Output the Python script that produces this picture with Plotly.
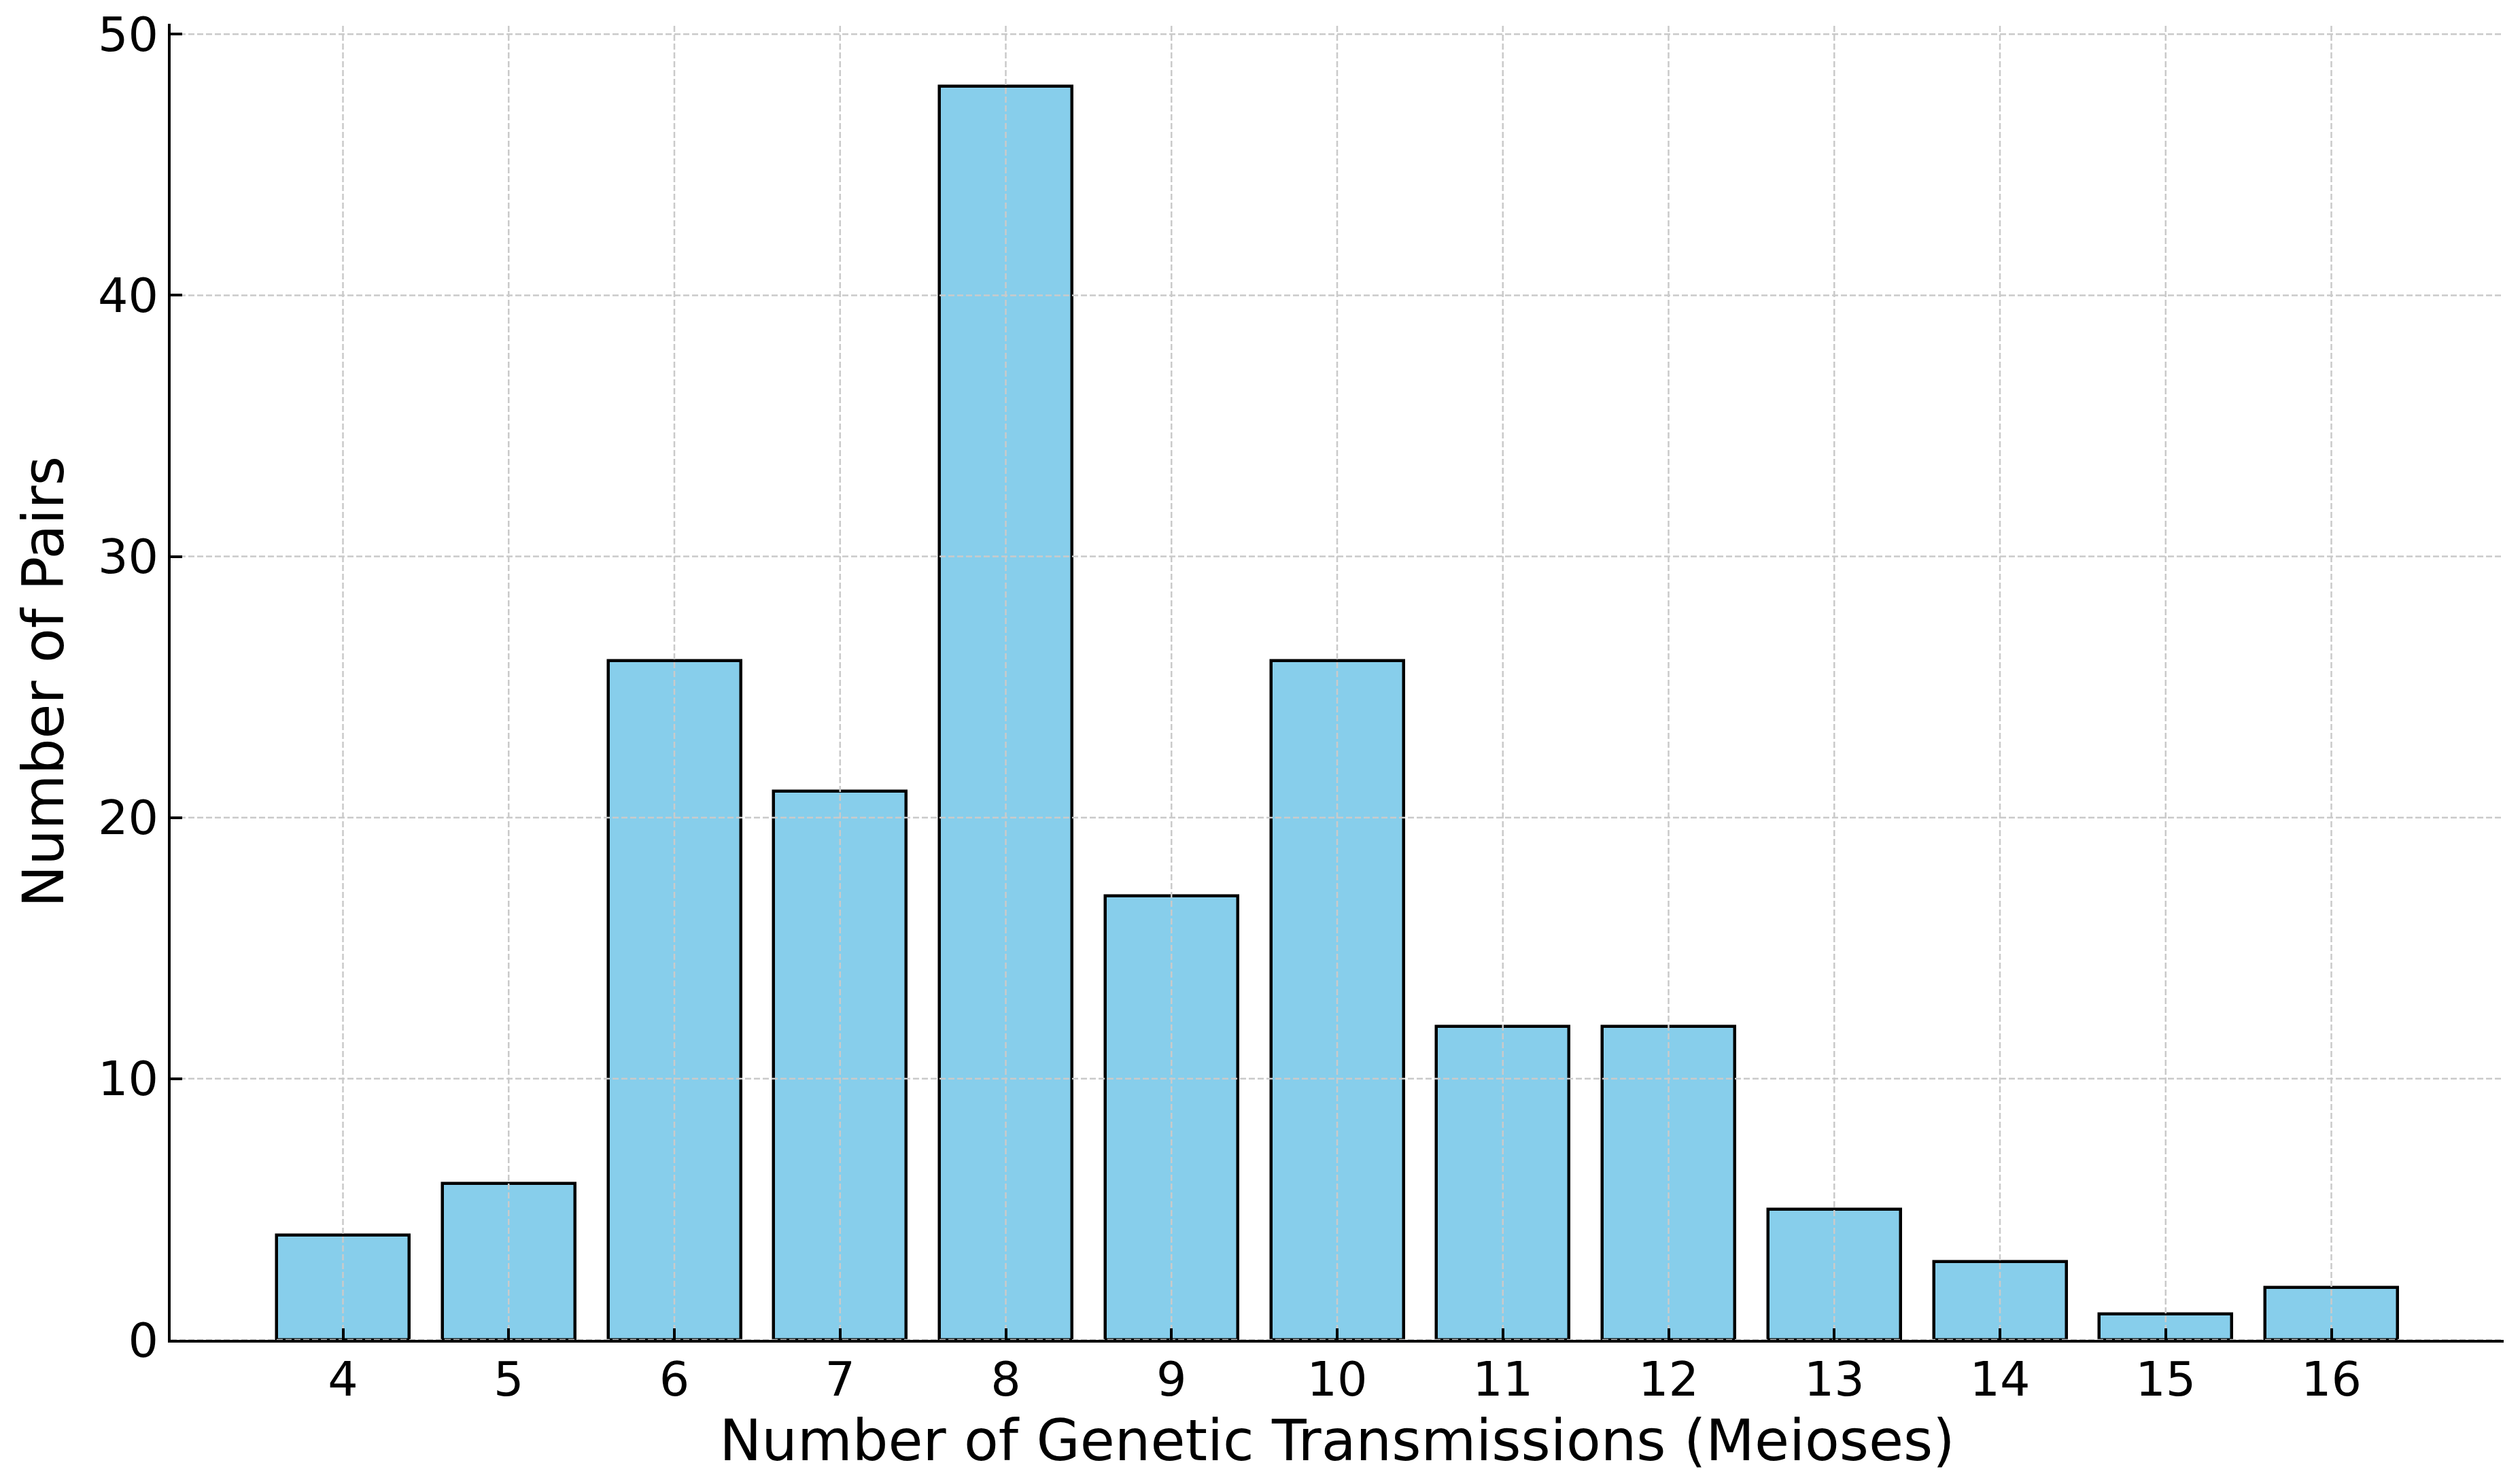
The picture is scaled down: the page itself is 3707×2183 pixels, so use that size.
import plotly.graph_objects as go

# Data
meioses = [4, 5, 6, 7, 8, 9, 10, 11, 12, 13, 14, 15, 16]
pairs = [4, 6, 26, 21, 48, 17, 26, 12, 12, 5, 3, 1, 2]
y_ticks = [0, 10, 20, 30, 40, 50]
x_title = "Number of Genetic Transmissions (Meioses)"
y_title = "Number of Pairs"

W, H = 3707, 2183
bar_width = 0.8
xmin = min(meioses) - bar_width / 2
xmax = max(meioses) + bar_width / 2
xpad = 0.05 * (xmax - xmin)
x_range = [xmin - xpad, xmax + xpad]
y_range = [0, max(pairs) * 1.05]

FONT = "DejaVu Sans"
GRID = "#cacaca"
DASH = "9px,4px"

fig = go.Figure()
fig.add_trace(go.Bar(
    x=meioses, y=pairs, width=bar_width,
    marker=dict(color="#87CEEB", line=dict(color="black", width=4.5)),
    hoverinfo="x+y", showlegend=False,
))

# gridlines drawn above the bars (as in the reference)
gx, gy = [], []
for t in meioses:
    gx += [t, t, None]
    gy += [y_range[0], y_range[1], None]
fig.add_trace(go.Scatter(x=gx, y=gy, mode="lines",
                         line=dict(color=GRID, width=2.5, dash=DASH),
                         hoverinfo="skip", showlegend=False))
hx, hy = [], []
for t in y_ticks:
    hx += [x_range[0], x_range[1], None]
    hy += [t, t, None]
fig.add_trace(go.Scatter(x=hx, y=hy, mode="lines",
                         line=dict(color=GRID, width=2.5, dash=DASH),
                         hoverinfo="skip", showlegend=False))

fig.update_layout(
    width=W, height=H,
    margin=dict(l=251, r=24, t=35, b=212, pad=0),
    paper_bgcolor="white", plot_bgcolor="white",
    font=dict(family=FONT, color="black", size=70),
    bargap=0,
)
fig.update_xaxes(
    range=x_range, tickmode="array", tickvals=meioses,
    ticktext=[str(v) for v in meioses],
    showgrid=False, zeroline=False,
    showline=True, linecolor="black", linewidth=4,
    ticks="inside", ticklen=17, tickwidth=4, tickcolor="black",
    tickfont=dict(size=70, family=FONT, color="black"),
    ticklabelstandoff=-6,
    title=dict(text=x_title, font=dict(size=83, family=FONT, color="black"), standoff=22),
    layer="above traces", automargin=False,
)
fig.update_yaxes(
    range=y_range, tickmode="array", tickvals=y_ticks,
    showgrid=False, zeroline=False,
    showline=True, linecolor="black", linewidth=4,
    ticks="inside", ticklen=17, tickwidth=4, tickcolor="black",
    tickfont=dict(size=70, family=FONT, color="black"),
    title=dict(text=y_title, font=dict(size=83, family=FONT, color="black"), standoff=24),
    layer="above traces", automargin=False,
)

fig.write_html("out.html", config={"displayModeBar": False},
               post_script="document.body.style.margin='0';")
